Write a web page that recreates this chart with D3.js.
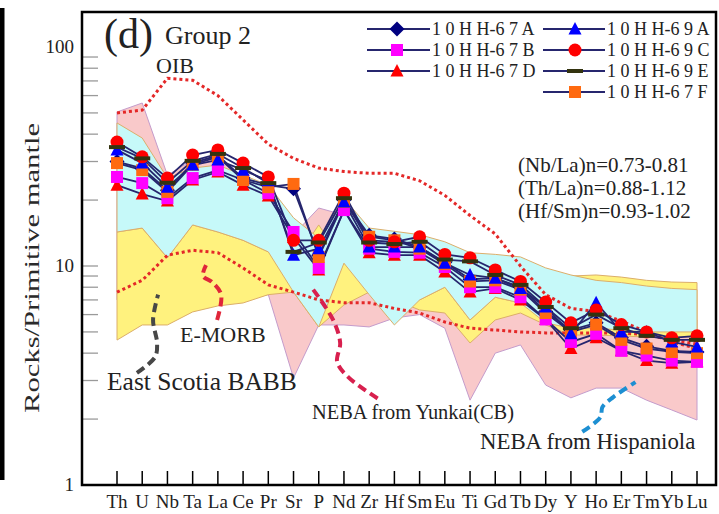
<!doctype html>
<html>
<head>
<meta charset="utf-8">
<style>
  body { margin: 0; background: #fff; }
  svg { font-family: "Liberation Serif", "Times New Roman", serif; }
</style>
</head>
<body>
<div id="chart"></div>
<script src="https://d3js.org/d3.v7.min.js"></script>
<script>
const elements = ["Th","U","Nb","Ta","La","Ce","Pr","Sr","P","Nd","Zr","Hf","Sm","Eu","Ti","Gd","Tb","Dy","Y","Ho","Er","Tm","Yb","Lu"];

// samples (normalised to primitive mantle)
const s67A = [30.0, 27.9, 22.2, 29.5, 32.0, 25.2, 23.4, 22.5, 11.2, 20.0, 13.8, 13.3, 12.2, 10.4, 8.7, 8.8, 8.0, 6.2, 5.1, 5.5, 4.7, 4.3, 4.1, 4.05];
const s67B = [25.5, 23.9, 20.4, 25.2, 27.4, 24.7, 21.5, 14.3, 9.8, 18.0, 12.0, 11.6, 11.5, 9.9, 8.0, 8.0, 7.2, 5.7, 4.5, 4.9, 4.1, 3.9, 3.7, 3.65];
const s67D = [23.4, 21.3, 19.8, 24.7, 26.9, 23.4, 20.9, 13.5, 9.6, 18.0, 11.5, 11.2, 11.2, 9.4, 7.6, 7.9, 7.0, 5.7, 4.2, 4.7, 4.1, 3.7, 3.6, 3.65];
const s69A = [33.9, 29.5, 22.9, 28.9, 30.5, 27.4, 24.5, 11.2, 12.0, 19.6, 12.2, 12.2, 12.2, 10.3, 9.1, 8.8, 7.9, 6.5, 4.9, 6.8, 5.0, 5.0, 4.5, 4.27];
const s69C = [36.8, 31.5, 25.2, 32.1, 33.9, 29.5, 25.5, 13.1, 13.1, 21.5, 13.1, 12.9, 13.6, 11.3, 10.9, 9.6, 8.5, 6.85, 5.5, 6.3, 5.4, 5.0, 4.7, 4.8];
const s69E = [34.9, 31.0, 24.0, 30.2, 32.5, 28.0, 23.9, 11.6, 12.8, 20.4, 12.8, 12.6, 12.9, 10.7, 10.5, 9.1, 8.2, 6.5, 5.2, 6.0, 5.2, 4.8, 4.6, 4.6];
const s67F = [29.5, 27.4, 21.8, 29.0, 31.5, 24.7, 22.9, 23.7, 11.0, 19.6, 13.6, 13.1, 12.0, 10.2, 8.5, 8.6, 7.8, 6.1, 5.0, 5.4, 4.6, 4.2, 4.05, 4.0];

// reference lines
const oib   = [50, 51.5, 72, 70.5, 60, 46.5, 36, 31, 28, 27, 26.5, 26.5, 24.5, 21, 17, 14, 10, 7.4, 6.4, 6.2, 5.6, 5.0, 4.5, 4.2];
const emorb = [7.6, 8.6, 11.2, 11.8, 11.5, 9.8, 8.2, 7.6, 7.0, 6.8, 6.8, 6.4, 6.1, 5.55, 5.2, 5.1, 5.0, 4.95, 4.95, 4.95, 4.95, 4.85, 4.6, 4.4];

// reference fields (upper / lower bounds)
const pinkTop   = [50.5, 55.5, 26.0, 30.5, 31.1, 25.2, 21.1, 13.9, 18.4, 17.1, 13.1, 12.5, 11.8, 10.7, 9.6, 9.1, 8.6, 7.8, 7.0, 7.0, 6.64, 6.3, 6.0, 5.67];
const pinkBot   = [7.0, 7.0, 7.0, 7.0, 7.0, 7.0, 7.4, 3.08, 5.38, 5.38, 5.27, 5.79, 6.0, 5.2, 2.44, 4.0, 4.36, 2.86, 2.5, 2.77, 2.77, 2.44, 2.2, 1.98];
const yellowTop = [14.3, 14.9, 10.9, 15.4, 14.3, 13.1, 11.6, 10.4, 15.4, 10.3, 8.2, 7.0, 7.0, 8.0, 5.67, 7.2, 6.78, 8.6, 9.0, 9.1, 8.9, 8.6, 8.45, 8.4];
const yellowBot = [4.59, 5.38, 5.38, 6.17, 6.57, 6.78, 7.4, 7.6, 5.27, 6.64, 7.6, 7.0, 6.3, 6.1, 4.45, 5.67, 6.1, 5.38, 4.84, 4.84, 4.79, 4.74, 4.74, 4.74];
const cyanTop   = [45.0, 38.4, 25.2, 28.0, 28.9, 26.0, 23.4, 16.6, 13.4, 20.4, 14.9, 14.4, 13.9, 12.9, 11.5, 11.3, 11.0, 9.8, 9.1, 8.6, 8.4, 8.1, 7.9, 7.8];
const cyanBot   = [14.3, 14.9, 10.9, 15.4, 14.3, 13.1, 11.6, 7.6, 5.27, 10.3, 7.4, 5.38, 7.0, 8.0, 5.67, 7.2, 6.78, 5.5, 5.2, 5.2, 5.1, 5.0, 5.0, 5.0];

// leader lines: [element position, value]
const leadScotia = [[0.79, 3.25], [1.51, 3.84], [1.59, 4.45], [1.43, 5.67], [1.63, 7.4]];
const leadEmorb  = [[3.97, 5.67], [4.13, 7.4], [3.77, 8.45], [3.41, 9.0], [3.53, 10.1]];
const leadYunkai = [[7.78, 7.8], [8.57, 5.67], [8.85, 4.45], [8.73, 3.65], [9.17, 3.11], [10.44, 2.44]];
const leadHisp   = [[18.45, 1.75], [19.17, 2.04], [19.25, 2.27], [19.68, 2.52], [20.56, 2.95]];

const yTicks = [1, 10, 100];
const ratios = ["(Nb/La)n=0.73-0.81", "(Th/La)n=0.88-1.12", "(Hf/Sm)n=0.93-1.02"];

const series = [
  {name: "1 0 H H-6 7 A", data: s67A, shape: "diamond",  color: "#000080"},
  {name: "1 0 H H-6 7 B", data: s67B, shape: "square",   color: "#ff00ff"},
  {name: "1 0 H H-6 7 D", data: s67D, shape: "triangle", color: "#ff0000"},
  {name: "1 0 H H-6 9 A", data: s69A, shape: "triangle", color: "#0000ff"},
  {name: "1 0 H H-6 9 C", data: s69C, shape: "circle",   color: "#ff0000"},
  {name: "1 0 H H-6 9 E", data: s69E, shape: "dash",     color: "#33330f"},
  {name: "1 0 H H-6 7 F", data: s67F, shape: "square",   color: "#ff6a10"}
];

const W = 719, H = 514;
const svg = d3.select("#chart").append("svg").attr("width", W).attr("height", H);

const x = d3.scalePoint().domain(elements).range([117, 697]);
const y = d3.scaleLog().domain([1, Math.pow(10, 473 / 219)]).range([485, 12]);
const xi = i => 117 + i * x.step();

// fields
function field(top, bot, fill, stroke) {
  const area = d3.area()
    .x((d, i) => x(elements[i]))
    .y0(d => y(d[1]))
    .y1(d => y(d[0]));
  svg.append("path")
    .datum(d3.zip(top, bot))
    .attr("d", area)
    .attr("fill", fill)
    .attr("stroke", stroke)
    .attr("stroke-width", 1);
}
field(pinkTop, pinkBot, "#f9c9ca", "#c49ccc");
field(yellowTop, yellowBot, "#fff27e", "#dcae6a");
field(cyanTop, cyanBot, "#c6f9f9", "#dcae6a");

// y minor ticks
const minor = [];
[1, 10].forEach(b => { for (let k = 2; k <= 9; k++) minor.push(b * k); });
minor.push(10);
svg.append("g").selectAll("line")
  .data(minor).enter().append("line")
  .attr("x1", 82).attr("x2", 98)
  .attr("y1", d => y(d)).attr("y2", d => y(d))
  .attr("stroke", "#9a9a9a").attr("stroke-width", 1.3);

// dotted reference lines
const line = d3.line().x((d, i) => x(elements[i])).y(d => y(d));
[oib, emorb].forEach(arr => {
  svg.append("path").datum(arr).attr("d", line)
    .attr("fill", "none").attr("stroke", "#e42828")
    .attr("stroke-width", 3).attr("stroke-dasharray", "3,3");
});

// sample lines
series.forEach(s => {
  svg.append("path").datum(s.data).attr("d", line)
    .attr("fill", "none").attr("stroke", "#26266e").attr("stroke-width", 1.8);
});

function marker(g, shape, color) {
  if (shape === "circle") g.append("circle").attr("r", 6.5).attr("fill", color);
  else if (shape === "square") g.append("rect").attr("x", -6).attr("y", -6).attr("width", 12).attr("height", 12).attr("fill", color);
  else if (shape === "triangle") g.append("path").attr("d", "M0,-7L6.5,5.5L-6.5,5.5Z").attr("fill", color);
  else if (shape === "diamond") g.append("path").attr("d", "M0,-7.5L7.5,0L0,7.5L-7.5,0Z").attr("fill", color);
  else if (shape === "dash") g.append("rect").attr("x", -8).attr("y", -2).attr("width", 16).attr("height", 4).attr("fill", color);
}

const drawOrder = [0, 2, 1, 6, 3, 4, 5];
drawOrder.forEach(k => {
  const s = series[k];
  svg.append("g").selectAll("g")
    .data(s.data).enter().append("g")
    .attr("transform", (d, i) => `translate(${x(elements[i])},${y(d)})`)
    .each(function() { marker(d3.select(this), s.shape, s.color); });
});

// leader lines
const lead = d3.line().x(d => xi(d[0])).y(d => y(d[1])).curve(d3.curveCatmullRom);
[[leadScotia, "#474747"], [leadEmorb, "#e0263a"], [leadYunkai, "#d8204e"], [leadHisp, "#1d8fd2"]].forEach(([pts, c]) => {
  svg.append("path").datum(pts).attr("d", lead)
    .attr("fill", "none").attr("stroke", c)
    .attr("stroke-width", 4).attr("stroke-dasharray", "9,5");
});

// frame
svg.append("rect").attr("x", 82).attr("y", 12).attr("width", 634).attr("height", 473)
  .attr("fill", "none").attr("stroke", "#000").attr("stroke-width", 2.5);
svg.append("rect").attr("x", 0).attr("y", 8).attr("width", 4.5).attr("height", 472).attr("fill", "#000");

// x ticks & labels
svg.append("g").selectAll("line").data(elements).enter().append("line")
  .attr("x1", d => x(d)).attr("x2", d => x(d))
  .attr("y1", 485).attr("y2", 471)
  .attr("stroke", "#000").attr("stroke-width", 1.5);
svg.append("g").selectAll("text").data(elements).enter().append("text")
  .attr("x", d => x(d)).attr("y", 508)
  .attr("text-anchor", "middle").attr("font-size", 19).attr("fill", "#222")
  .text(d => d);

// y labels
svg.append("g").selectAll("text").data(yTicks).enter().append("text")
  .attr("x", 74).attr("y", d => y(d) + 6)
  .attr("text-anchor", "end").attr("font-size", 19).attr("fill", "#222")
  .text(d => d);

svg.append("text")
  .attr("transform", "translate(39,268) rotate(-90)")
  .attr("text-anchor", "middle").attr("font-size", 21).attr("fill", "#2a2a2a")
  .attr("textLength", 290).attr("lengthAdjust", "spacingAndGlyphs")
  .text("Rocks/Primitive mantle");

// titles
svg.append("text").attr("x", 104).attr("y", 48).attr("font-size", 42).attr("fill", "#222").text("(d)");
svg.append("text").attr("x", 165).attr("y", 44).attr("font-size", 26).attr("fill", "#222").text("Group 2");
svg.append("text").attr("x", 156).attr("y", 73).attr("font-size", 22).attr("fill", "#222").text("OIB");

// annotations
svg.append("g").selectAll("text").data(ratios).enter().append("text")
  .attr("x", 518).attr("y", (d, i) => 172 + i * 23)
  .attr("font-size", 21).attr("fill", "#222").text(d => d);
svg.append("text").attr("x", 180).attr("y", 342).attr("font-size", 22).attr("fill", "#222").text("E-MORB");
svg.append("text").attr("x", 107).attr("y", 390).attr("font-size", 25.5).attr("fill", "#222").text("East Scotia BABB");
svg.append("text").attr("x", 312).attr("y", 419).attr("font-size", 20.4).attr("fill", "#222").text("NEBA from Yunkai(CB)");
svg.append("text").attr("x", 480).attr("y", 449).attr("font-size", 22.8).attr("fill", "#222").text("NEBA from Hispaniola");

// legend
const cols = [{x0: 367, x1: 430, m: 397, t: 432, items: [0, 1, 2]}, {x0: 543, x1: 605, m: 575, t: 607, items: [3, 4, 5, 6]}];
cols.forEach(c => {
  c.items.forEach((k, r) => {
    const s = series[k];
    const yy = 29 + r * 21;
    svg.append("line").attr("x1", c.x0).attr("x2", c.x1).attr("y1", yy).attr("y2", yy)
      .attr("stroke", "#26266e").attr("stroke-width", 2);
    const g = svg.append("g").attr("transform", `translate(${c.m},${yy})`);
    marker(g, s.shape, s.color);
    svg.append("text").attr("x", c.t).attr("y", yy + 6).attr("font-size", 18).attr("fill", "#222").text(s.name);
  });
});
</script>
</body>
</html>
